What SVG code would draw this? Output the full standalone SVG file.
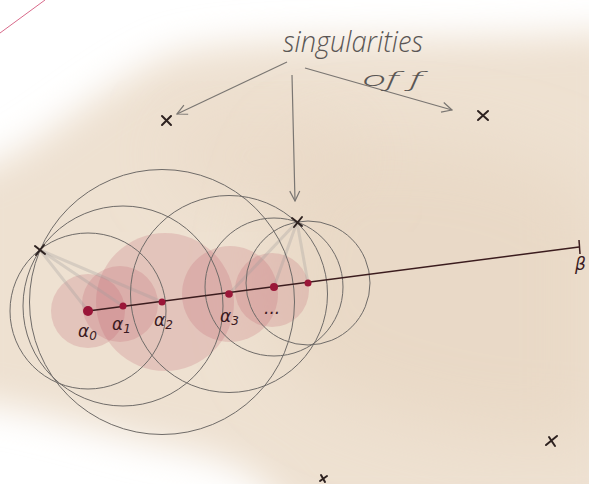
<svg xmlns="http://www.w3.org/2000/svg" width="589" height="484" viewBox="0 0 589 484">
<defs>
<filter id="blur" x="-30%" y="-30%" width="160%" height="160%"><feGaussianBlur stdDeviation="18"/></filter>
<filter id="blur2" x="-30%" y="-30%" width="160%" height="160%"><feGaussianBlur stdDeviation="35"/></filter>
<marker id="ah" viewBox="0 0 12 12" refX="11" refY="6" markerWidth="12" markerHeight="12" markerUnits="userSpaceOnUse" orient="auto"><path d="M1,1 L11,6 L1,11" fill="none" stroke="#7a7672" stroke-width="1.2"/></marker>
<style>
.circ{fill:none;stroke:#6f6b68;stroke-width:1}
.disk{fill:#c0606e;fill-opacity:0.22}
.ray{stroke:#a09c9a;stroke-width:3;stroke-opacity:0.3;stroke-linecap:round}
.pt{fill:#9a1638}
.cross{stroke:#2e2220;stroke-width:2;stroke-linecap:round}
.arrow{fill:none;stroke:#7a7672;stroke-width:1.2}
.hand{font-family:"Open Sans","DejaVu Sans",sans-serif;font-weight:300;font-style:italic;fill:#5a5654}
.lbl{font-family:"DejaVu Sans",sans-serif;font-style:italic;fill:#3a1a22;font-size:17px}
</style>
</defs>
<rect width="589" height="484" fill="#ffffff"/>
<g id="background">
<path d="M170,55 C260,30 420,45 620,30 L620,520 L290,520 C270,480 240,460 160,445 C90,430 40,410 -40,400 L-40,175 C30,160 90,90 170,55 Z" fill="#eee1d1" filter="url(#blur)"/>
<path d="M300,150 C420,120 560,160 600,200 L600,440 C520,450 420,430 340,400 C260,370 240,300 300,150 Z" fill="#e6d3bd" fill-opacity="0.55" filter="url(#blur2)"/>
<path d="M190,120 C260,100 330,110 360,140 C380,200 300,210 220,200 C170,190 150,150 190,120 Z" fill="#e6d3bd" fill-opacity="0.4" filter="url(#blur2)"/>
<line x1="0" y1="33" x2="45" y2="0" stroke="#d86a8a" stroke-width="1"/>
</g>
<g id="disks">
<circle class="disk" cx="88" cy="311" r="37"/>
<circle class="disk" cx="120" cy="304" r="38"/>
<circle class="disk" cx="165" cy="302" r="69"/>
<circle class="disk" cx="230" cy="294" r="48"/>
<circle class="disk" cx="272" cy="290" r="37"/>
</g>
<g id="rays">
<line class="ray" x1="40" y1="250" x2="88" y2="311"/>
<line class="ray" x1="40" y1="250" x2="123" y2="306"/>
<line class="ray" x1="40" y1="250" x2="162" y2="302"/>
<line class="ray" x1="297" y1="222" x2="229" y2="294"/>
<line class="ray" x1="297" y1="222" x2="274" y2="287"/>
<line class="ray" x1="297" y1="222" x2="308" y2="283"/>
</g>
<g id="circles">
<circle class="circ" cx="88" cy="311" r="78"/>
<circle class="circ" cx="123" cy="306" r="100"/>
<circle class="circ" cx="162" cy="302" r="132.5"/>
<circle class="circ" cx="229" cy="294" r="98.5"/>
<circle class="circ" cx="274" cy="287" r="69"/>
<circle class="circ" cx="308" cy="283" r="62"/>
</g>
<g id="path-line">
<line x1="88" y1="311" x2="579" y2="247" stroke="#3b1c1e" stroke-width="1.5"/>
<line x1="579" y1="240" x2="580" y2="254" stroke="#3b1c1e" stroke-width="1.5"/>
</g>
<g id="points">
<circle class="pt" cx="88" cy="311" r="5"/>
<circle class="pt" cx="123" cy="306" r="3.5"/>
<circle class="pt" cx="162" cy="302" r="3.5"/>
<circle class="pt" cx="229" cy="294" r="3.8"/>
<circle class="pt" cx="274" cy="287" r="4"/>
<circle class="pt" cx="308" cy="283" r="3.5"/>
</g>
<g id="crosses">
<path class="cross" d="M162,116 L171,125 M171,116 L162,125"/>
<path class="cross" d="M478,111 L488,120 M488,111 L478,120"/>
<path class="cross" d="M292,218 L302,226 M302,217 L294,227"/>
<path class="cross" d="M35,246 L45,254 M44,245 L36,255"/>
<path class="cross" d="M546,445 L557,436 M549,437 L555,446"/>
<path class="cross" d="M320,481 L327,476 M321,475 L325,482"/>
</g>
<g id="connectors">
<line class="arrow" x1="287" y1="62" x2="177" y2="114" marker-end="url(#ah)"/>
<path class="arrow" d="M292,75 C293,120 294,160 295,201" marker-end="url(#ah)"/>
<line class="arrow" x1="305" y1="68" x2="452" y2="110" marker-end="url(#ah)"/>
</g>
<g id="texts">
<text class="hand" x="283" y="52" font-size="30" textLength="140" lengthAdjust="spacingAndGlyphs">singularities</text>
<text class="hand" x="362" y="86" font-size="20" textLength="60" lengthAdjust="spacingAndGlyphs">of  f</text>
<text class="lbl" x="78" y="337">α<tspan font-size="12" dy="3">0</tspan></text>
<text class="lbl" x="112" y="330">α<tspan font-size="12" dy="3">1</tspan></text>
<text class="lbl" x="154" y="326">α<tspan font-size="12" dy="3">2</tspan></text>
<text class="lbl" x="220" y="322">α<tspan font-size="12" dy="3">3</tspan></text>
<text class="lbl" x="264" y="314">...</text>
<text class="lbl" x="575" y="270">β</text>
</g>
</svg>
